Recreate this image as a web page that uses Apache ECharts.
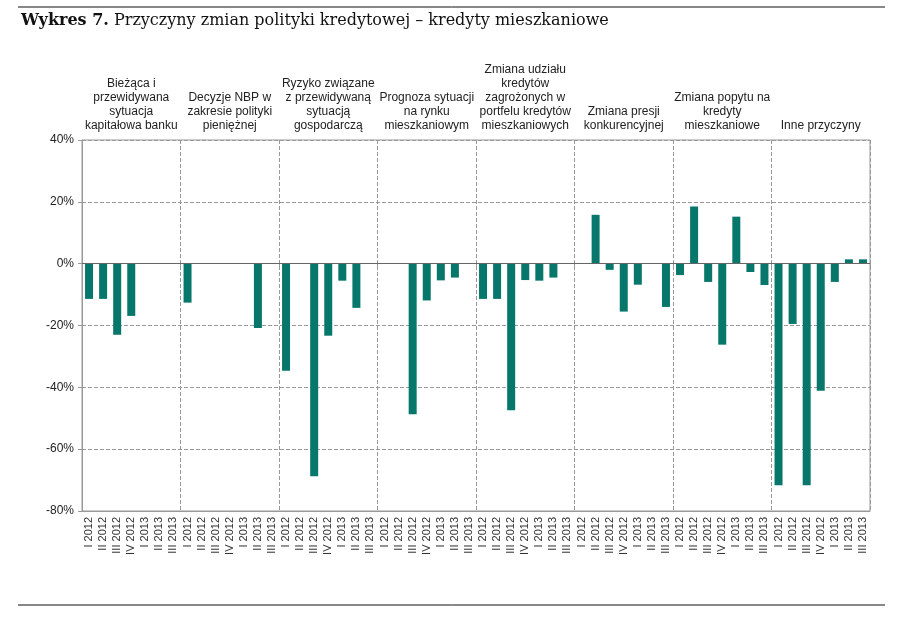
<!DOCTYPE html>
<html>
<head>
<meta charset="utf-8">
<script src="https://cdn.jsdelivr.net/npm/echarts@6/dist/echarts.min.js"></script>
<style>
  html, body { margin: 0; padding: 0; background: #fff; }
  #chart { width: 908px; height: 625px; }
</style>
</head>
<body>
<div id="chart"></div>
<script>
// kwartały w każdej grupie
var quarters = ['I 2012', 'II 2012', 'III 2012', 'IV 2012', 'I 2013', 'II 2013', 'III 2013'];

// nazwy przyczyn (grupy)
var groups = [
    'Bieżąca i\nprzewidywana\nsytuacja\nkapitałowa banku',
    'Decyzje NBP w\nzakresie polityki\npieniężnej',
    'Ryzyko związane\nz przewidywaną\nsytuacją\ngospodarczą',
    'Prognoza sytuacji\nna rynku\nmieszkaniowym',
    'Zmiana udziału\nkredytów\nzagrożonych w\nportfelu kredytów\nmieszkaniowych',
    'Zmiana presji\nkonkurencyjnej',
    'Zmiana popytu na\nkredyty\nmieszkaniowe',
    'Inne przyczyny'
];

// wartości (%) dla każdej grupy
var kapital    = [-11.4, -11.4, -23.0, -16.9, null, null, null];
var nbp        = [-12.6, null, null, null, null, -20.8, null];
var ryzyko     = [-34.6, null, -68.8, -23.3, -5.5, -14.3, null];
var prognoza   = [null, null, -48.7, -11.9, -5.4, -4.5, null];
var zagrozone  = [-11.4, -11.4, -47.4, -5.3, -5.5, -4.5, null];
var konkurencja = [null, 15.8, -2.0, -15.5, -6.8, 0.2, -14.0];
var popyt      = [-3.7, 18.5, -5.9, -26.2, 15.2, -2.7, -6.9];
var inne       = [-71.7, -19.5, -71.7, -41.1, -5.9, 1.4, 1.4];

var allGroups = [kapital, nbp, ryzyko, prognoza, zagrozone, konkurencja, popyt, inne];
var categories = [];
var values = [];
allGroups.forEach(function (g) {
    quarters.forEach(function (q, i) {
        categories.push(q);
        values.push(g[i]);
    });
});

var chart = echarts.init(document.getElementById('chart'));

var option = {
    animation: false,
    textStyle: { fontFamily: 'Liberation Sans, Arial, sans-serif' },
    title: {
        text: '{b|Wykres 7.} Przyczyny zmian polityki kredytowej – kredyty mieszkaniowe',
        left: 16,
        top: 8,
        textStyle: {
            fontFamily: 'DejaVu Serif',
            fontSize: 16,
            fontWeight: 'normal',
            color: '#111',
            rich: {
                b: { fontFamily: 'DejaVu Serif', fontSize: 16, fontWeight: 'bold', color: '#111' }
            }
        }
    },
    graphic: [
        { type: 'line', shape: { x1: 18, y1: 7, x2: 885, y2: 7 }, style: { stroke: '#111', lineWidth: 1 } },
        { type: 'line', shape: { x1: 18, y1: 605, x2: 885, y2: 605 }, style: { stroke: '#111', lineWidth: 1 } }
    ],
    grid: {
        left: 82,
        right: 38,
        top: 140,
        bottom: 114,
        show: true,
        borderColor: '#999',
        borderWidth: 1
    },
    xAxis: [
        {
            type: 'category',
            data: categories,
            position: 'bottom',
            axisLine: { onZero: false, lineStyle: { color: '#999' } },
            axisTick: { show: false },
            splitLine: {
                show: true,
                interval: function (index) { return index > 0 && index % quarters.length === 0; },
                lineStyle: { color: '#999', type: 'dashed' }
            },
            axisLabel: {
                interval: 0,
                rotate: 90,
                fontSize: 11,
                color: '#333',
                margin: 6
            }
        },
        {
            type: 'category',
            data: groups,
            position: 'top',
            axisLine: { show: false },
            axisTick: { show: true, inside: true, length: 4, lineStyle: { color: '#999' } },
            axisLabel: {
                interval: 0,
                fontSize: 12,
                lineHeight: 14,
                color: '#222',
                margin: 7
            }
        }
    ],
    yAxis: {
        type: 'value',
        min: -80,
        max: 40,
        interval: 20,
        axisLine: { show: true, lineStyle: { color: '#999' } },
        axisTick: { show: true, length: 4, lineStyle: { color: '#999' } },
        splitLine: { show: true, lineStyle: { color: '#999', type: 'dashed' } },
        axisLabel: {
            formatter: '{value}%',
            fontSize: 12,
            color: '#222',
            margin: 8
        }
    },
    series: [{
        type: 'bar',
        data: values,
        barWidth: 8,
        itemStyle: { color: '#08776B' },
        markLine: {
            silent: true,
            symbol: 'none',
            label: { show: false },
            lineStyle: { color: '#666', type: 'solid', width: 1 },
            data: [{ yAxis: 0 }]
        }
    }]
};

chart.setOption(option);
</script>
</body>
</html>
